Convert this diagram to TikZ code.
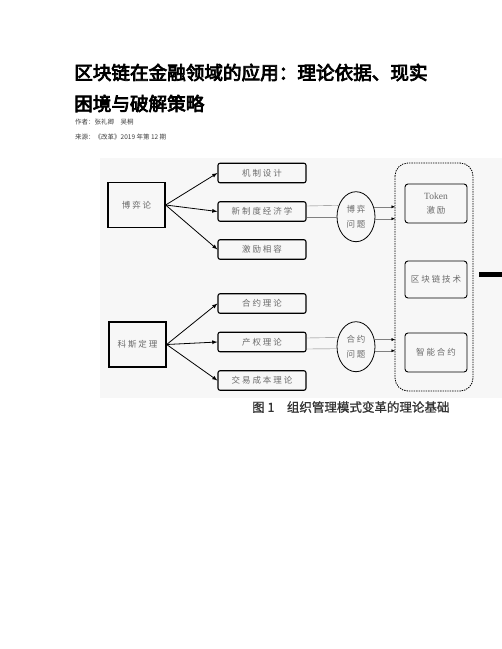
\documentclass[tikz,border=0pt]{standalone}
\usepackage{fontspec}
\setmainfont{Liberation Serif}
\newfontfamily\cjk{Noto Sans CJK SC}
\newfontfamily\cjkb{Noto Sans CJK SC}[FakeBold=4]
\newfontfamily\cjkm{Noto Sans CJK SC}[FakeBold=1]
\usetikzlibrary{shapes.geometric, arrows.meta}
\definecolor{txtgray}{HTML}{6A6A6A}
\definecolor{linegray}{HTML}{808080}
\tikzset{
    srcbox/.style={draw, line width=1.3pt, minimum width=57pt, minimum height=45pt, font=\cjk\fontsize{8.5}{10}\selectfont, text=txtgray},
    leafbox/.style={draw, line width=1.1pt, rounded corners=2pt, minimum width=88pt, minimum height=19.5pt, font=\cjk\fontsize{8.5}{10}\selectfont, text=txtgray},
    probell/.style={draw, ellipse, line width=.8pt, minimum width=38pt, minimum height=50pt, align=center, font=\cjk\fontsize{8.5}{15}\selectfont, text=txtgray},
    techbox/.style={draw, line width=.9pt, rounded corners=3pt, minimum width=62pt, minimum height=38pt, align=center, font=\cjk\fontsize{8.5}{14}\selectfont, text=txtgray},
    gline/.style={linegray, thin},
    garrow/.style={linegray, thin, -{Latex[length=3.5pt, width=3pt, black]}},
}
\begin{document}
\begin{tikzpicture}[>=latex, x=1pt, y=-1pt]
    \useasboundingbox (0,0) rectangle (502,649);
    \fill[white] (0,0) rectangle (502,649);
    \fill[black!3] (100,158) rectangle (502,398);
    % title
    \node[anchor=west, inner sep=0, font=\cjkb\fontsize{18.6}{22}\selectfont] (title1) at (74,72.5) {区块链在金融领域的应用：理论依据、现实};
    \node[anchor=west, inner sep=0, font=\cjkb\fontsize{18.6}{22}\selectfont] (title2) at (74,103.5) {困境与破解策略};
    \node[anchor=west, inner sep=0, font=\cjk\fontsize{6.5}{8}\selectfont, text=black!75] (author) at (75,122.5) {作者：张礼卿\quad 吴桐};
    \node[anchor=west, inner sep=0, font=\cjk\fontsize{6.5}{8}\selectfont, text=black!75] (source) at (75,137) {来源：《改革》2019 年第 12 期};
    % left side
    \node[srcbox] (game) at (136.5,205) {博 弈 论};
    \node[srcbox] (coase) at (137.5,344.5) {科 斯 定 理};
    \node[leafbox] (m1) at (262,173) {机 制 设 计};
    \node[leafbox] (m2) at (262,211.5) {新 制 度 经 济 学};
    \node[leafbox] (m3) at (262,249.5) {激 励 相 容};
    \node[leafbox] (c1) at (262,303.5) {合 约 理 论};
    \node[leafbox] (c2) at (262,342) {产 权 理 论};
    \node[leafbox] (c3) at (262,380.5) {交 易 成 本 理 论};
    \foreach \b in {m1,m2,m3} \draw[->, thick] (game.east) -- (\b.west);
    \foreach \b in {c1,c2,c3} \draw[->, thick] (coase.east) -- (\b.west);
    % problems
    \node[probell] (e1) at (356,216.7) {博 弈\\问 题};
    \node[probell] (e2) at (356,346.7) {合 约\\问 题};
    % blockchain
    \draw[line width=.8pt, dash pattern=on 1.4pt off 1pt, rounded corners=13pt] (395,163) rectangle (473,391);
    \coordinate (cont) at (395,277);
    \node[techbox, minimum height=39pt] (t1) at (436,203.5) {{\fontsize{9.5}{14}\selectfont\rmfamily Token}\\激 励};
    \node[techbox, minimum height=37pt] (t2) at (436,279.5) {区 块 链 技 术};
    \node[techbox, minimum height=39pt] (t3) at (436,352.5) {智 能 合 约};
    % double lines
    \draw[gline] ([yshift=5.5pt]m2.east) -- (e1.147);
    \draw[gline] ([yshift=-5.2pt]m2.east) -- (e1.180);
    \draw[gline] ([yshift=4pt]c2.east) -- (e2.153);
    \draw[gline] ([yshift=-7pt]c2.east) -- (e2.186);
    \draw[garrow] (e1.29) -- (e1.29 -| cont);
    \draw[garrow] (e1.-6) -- (e1.-6 -| cont);
    \draw[garrow] (e2.21) -- (e2.21 -| cont);
    \draw[garrow] (e2.-12) -- (e2.-12 -| cont);
    \fill (479,272) rectangle (502,277);
    % caption
    \node[anchor=west, inner sep=0, font=\cjkm\fontsize{12.5}{14}\selectfont, text=black!80] (caption) at (252,407) {图 1\quad 组织管理模式变革的理论基础};
\end{tikzpicture}
\end{document}
